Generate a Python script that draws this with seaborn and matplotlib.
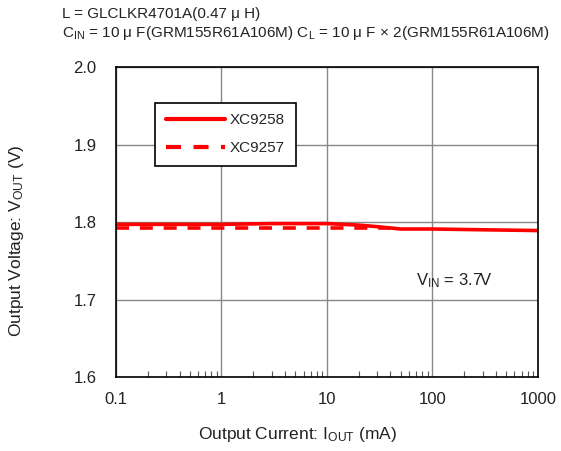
import numpy as np
import pandas as pd
import matplotlib
matplotlib.use('Agg')
import matplotlib.pyplot as plt
import seaborn as sns
from matplotlib.ticker import LogLocator, NullFormatter, FixedLocator

# datos
corriente_9258 = [0.1, 1, 3, 10, 20, 30, 50, 100, 300, 1000]
voltaje_9258 = [1.797, 1.797, 1.798, 1.798, 1.796, 1.794, 1.791, 1.791, 1.790, 1.789]
corriente_9257 = [0.1, 1, 10, 20, 40]
voltaje_9257 = [1.792, 1.792, 1.792, 1.792, 1.792]
series = ['XC9258', 'XC9257']
ticks_x = [0.1, 1, 10, 100, 1000]
etiquetas_x = ['0.1', '1', '10', '100', '1000']
ticks_y = [1.6, 1.7, 1.8, 1.9, 2.0]

df = pd.concat([
    pd.DataFrame({'I': corriente_9258, 'V': voltaje_9258, 'serie': series[0]}),
    pd.DataFrame({'I': corriente_9257, 'V': voltaje_9257, 'serie': series[1]}),
])

sns.set_style('ticks')
plt.rcParams['font.family'] = ['Liberation Sans', 'DejaVu Sans']
plt.rcParams['mathtext.default'] = 'regular'

fig = plt.figure(figsize=(5.61, 4.51), dpi=100)
ax = fig.add_axes([0.2068, 0.164, 0.752, 0.6874])

sns.lineplot(data=df, x='I', y='V', hue='serie', style='serie',
             palette={'XC9258': '#ff0000', 'XC9257': '#ff0000'},
             dashes={'XC9258': '', 'XC9257': (3.6, 3.0)},
             linewidth=2.6, ax=ax, estimator=None, sort=False)

ax.set_xscale('log')
ax.set_xlim(0.1, 1000)
ax.set_ylim(1.6, 2.0)
ax.xaxis.set_major_locator(FixedLocator(ticks_x))
ax.set_xticks(ticks_x)
ax.set_xticklabels(etiquetas_x)
ax.xaxis.set_minor_locator(LogLocator(base=10, subs=np.arange(2, 10)))
ax.xaxis.set_minor_formatter(NullFormatter())
ax.set_yticks(ticks_y)
ax.set_yticklabels([f'{v:.1f}' for v in ticks_y])
ax.tick_params(axis='both', which='major', length=0, labelsize=12, colors='#222222')
ax.tick_params(axis='x', which='major', pad=11)
ax.tick_params(axis='y', which='major', pad=14)
ax.tick_params(axis='x', which='minor', direction='in', length=4, width=0.8, color='#555555')
ax.grid(True, which='major', color='#888888', linewidth=1)
for lado in ax.spines.values():
    lado.set_color('black')
    lado.set_linewidth(1.2)

ax.set_xlabel('')
ax.set_ylabel('')
fig.text(298 / 561, 1 - 435 / 451, 'Output Current: I$_{OUT}$ (mA)', fontsize=12.5,
         ha='center', va='center', color='#222222')
fig.text(17 / 561, 1 - 241 / 451, 'Output Voltage: V$_{OUT}$ (V)', fontsize=12.5,
         ha='center', va='center', rotation=90, color='#222222')

leg = ax.legend(loc='upper left', bbox_to_anchor=(0.092, 0.885), fontsize=11,
                handlelength=3.9, handletextpad=0.3, borderpad=0.7, labelspacing=0.9,
                fancybox=False, framealpha=1, edgecolor='black', borderaxespad=0)
leg.get_frame().set_linewidth(1.2)
for linea in leg.get_lines():
    linea.set_linewidth(3)

ax.text(0.71, 0.31, 'V$_{IN}$ = 3.7V', transform=ax.transAxes, fontsize=12,
        color='#222222', va='center')

fig.text(62 / 561, 1 - 14 / 451, 'L = GLCLKR4701A(0.47 μ H)', fontsize=11,
         va='center', color='#222222')
fig.text(62 / 561, 1 - 33 / 451,
         'C$_{IN}$ = 10 μ F(GRM155R61A106M) C$_{L}$ = 10 μ F × 2(GRM155R61A106M)',
         fontsize=11, va='center', color='#222222')

fig.savefig('out.png', dpi=100)
